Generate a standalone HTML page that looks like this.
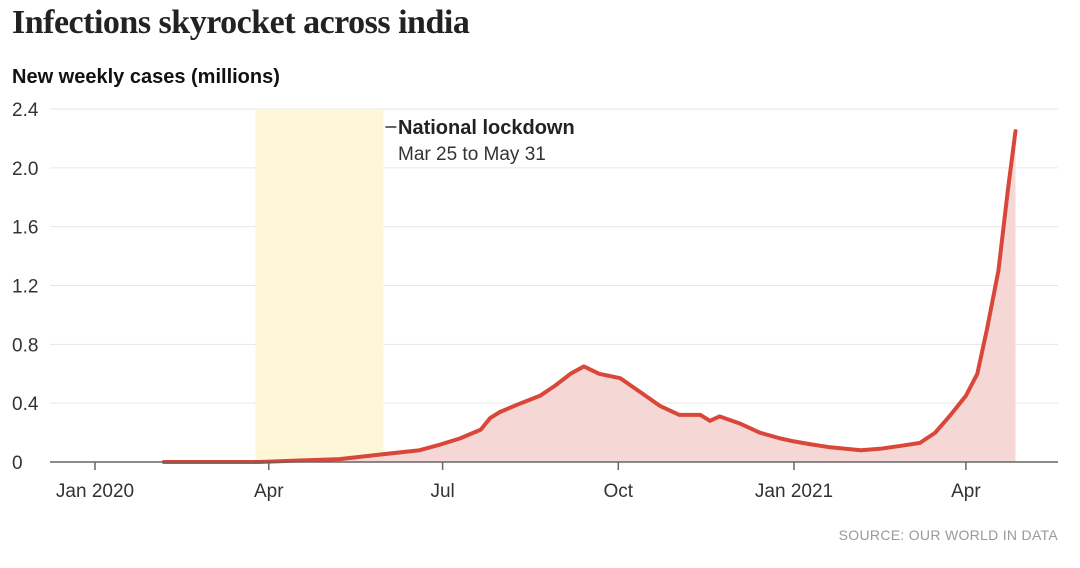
<!DOCTYPE html>
<html><head><meta charset="utf-8">
<style>
body{margin:0;background:#fff;width:1080px;height:568px;overflow:hidden;font-family:"Liberation Sans",sans-serif}
#title{position:absolute;left:12px;top:4px;font-family:"Liberation Serif",serif;font-size:34px;font-weight:bold;color:#222;letter-spacing:-0.5px}
#ytitle{position:absolute;left:12px;top:66px;font-size:20px;font-weight:bold;color:#111}
#src{position:absolute;right:22px;top:527px;font-size:14px;color:#999;letter-spacing:0.3px}
svg{position:absolute;left:0;top:0}
</style></head><body>
<div id="title">Infections skyrocket across india</div>
<div id="ytitle">New weekly cases (millions)</div>
<div id="src">SOURCE: OUR WORLD IN DATA</div>
<svg id="chart" width="1080" height="568"></svg>
<script>
// days since 2020-01-01
const days=[36,60,86,107,128,149,170,181,191,202,207,212,223,233,241,249,256,264,275,285,296,306,317,322,327,338,348,359,366,375,385,401,411,422,432,440,448,456,462,467,473,478,482];
const cases=[0,0,0,0.01,0.02,0.05,0.08,0.12,0.16,0.22,0.3,0.34,0.4,0.45,0.52,0.6,0.65,0.6,0.57,0.48,0.38,0.32,0.32,0.28,0.31,0.26,0.2,0.16,0.14,0.12,0.1,0.08,0.09,0.11,0.13,0.2,0.32,0.45,0.6,0.9,1.3,1.85,2.25];
const yTicks=[0,0.4,0.8,1.2,1.6,2.0,2.4];
const yLabels=["0","0.4","0.8","1.2","1.6","2.0","2.4"];
const xTickDays=[0,91,182,274,366,456];
const xLabels=["Jan 2020","Apr","Jul","Oct","Jan 2021","Apr"];
const lockdown=[84,151];
const NS="http://www.w3.org/2000/svg";
const svg=document.getElementById('chart');
const x=d=>95+d*(699/366);
const y=v=>462-v*(353/2.4);
function mk(t,a){const e=document.createElementNS(NS,t);for(const k in a)e.setAttribute(k,a[k]);svg.appendChild(e);return e;}
yTicks.forEach((v,i)=>{
 if(v>0){const g=mk('line',{x1:50,x2:1058,y1:y(v),y2:y(v),stroke:'#e6e6e6','stroke-width':1});
 
 }
 const t=mk('text',{x:12,y:y(v)+7,'font-size':19,fill:'#333','font-family':'Liberation Sans, sans-serif'});
 t.textContent=yLabels[i];
 
 
});
const sh=mk('rect',{x:x(lockdown[0]),y:y(2.4),width:x(lockdown[1])-x(lockdown[0]),height:y(0)-y(2.4),fill:'#fdf7d8'});


let pts=days.map((d,i)=>x(d).toFixed(1)+','+y(cases[i]).toFixed(1));
const area=mk('path',{d:'M'+x(days[0])+','+y(0)+' L'+pts.join(' L')+' L'+x(days[days.length-1])+','+y(0)+'Z',fill:'#f5d8d6'});


const line=mk('path',{d:'M'+pts.join(' L'),fill:'none',stroke:'#d9473a','stroke-width':4,'stroke-linejoin':'round','stroke-linecap':'round'});


const ax=mk('line',{x1:50,x2:1058,y1:y(0),y2:y(0),stroke:'#666','stroke-width':1.5});


xTickDays.forEach((d,i)=>{
 const tk=mk('line',{x1:x(d),x2:x(d),y1:y(0),y2:y(0)+8,stroke:'#666','stroke-width':1.5});
 
 
 const t=mk('text',{x:x(d),y:497,'font-size':19,fill:'#333','text-anchor':'middle','font-family':'Liberation Sans, sans-serif'});
 t.textContent=xLabels[i];
 
 
});
const al=mk('line',{x1:x(lockdown[1])+2,x2:x(lockdown[1])+13,y1:127,y2:127,stroke:'#333','stroke-width':1.5});


const a1=mk('text',{x:398,y:134,'font-size':20,'font-weight':'bold',fill:'#222','font-family':'Liberation Sans, sans-serif'});
a1.textContent='National lockdown';


const a2=mk('text',{x:398,y:160,'font-size':19,fill:'#333','font-family':'Liberation Sans, sans-serif'});
a2.textContent='Mar 25 to May 31';


</script>
</body></html>
